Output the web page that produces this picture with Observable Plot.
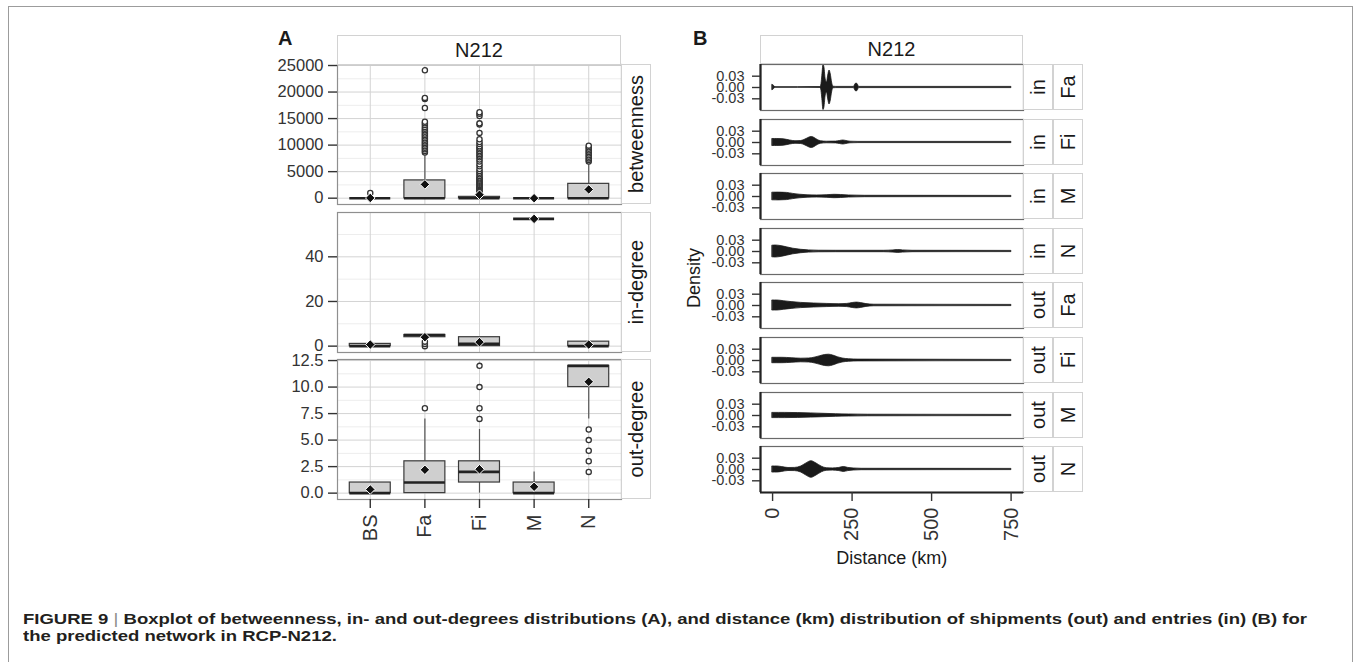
<!DOCTYPE html>
<html><head><meta charset="utf-8">
<script src="https://cdn.jsdelivr.net/npm/d3@7"></script>
<script src="https://cdn.jsdelivr.net/npm/@observablehq/plot@0.6"></script>
<style>
body{margin:0;background:#fff;font-family:"Liberation Sans",Arial,sans-serif;}
#root{position:relative;width:1356px;height:662px;overflow:hidden;background:#fff}
.strip{position:absolute;box-sizing:border-box;border:1px solid #d2d2d2;background:#fff;color:#1a1a1a;font-size:20px;display:flex;align-items:center;justify-content:center;}
.rot{transform:rotate(-90deg);white-space:nowrap;line-height:1}
.lab{position:absolute;white-space:nowrap;line-height:1;color:#1a1a1a}
</style></head><body><div id="root"></div>
<script>
// ---------------- DATA ----------------
const categories = ["BS","Fa","Fi","M","N"];
const metrics = ["betweenness","in-degree","out-degree"];

// betweenness
const btwQ1 = [0, 0, 0, 0, 0];
const btwMedian = [0, 0, 0, 0, 0];
const btwQ3 = [0, 3350, 250, 0, 2700];
const btwWhiskerLow = [0, 0, 0, 0, 0];
const btwWhiskerHigh = [0, 8300, 600, 0, 6700];
const btwMean = [50, 2600, 650, 0, 1650];
const btwOutliers = [
  [1000],
  [8600, 8900, 9200, 9500, 9800, 10100, 10400, 10700, 11000, 11300, 11600, 11900, 12200, 12500, 12800, 13100, 13400, 13800, 14100, 14400, 17000, 18700, 18900, 24100],
  [700, 900, 1100, 1300, 1500, 1700, 1900, 2100, 2300, 2500, 2700, 2900, 3100, 3300, 3500, 3700, 3900, 4200, 4500, 4800, 5100, 5500, 6000, 6400, 6900, 7300, 7700, 8000, 8300, 8600, 8900, 9200, 9500, 9800, 10200, 10600, 11100, 12300, 13900, 14100, 15500, 15900, 16200],
  [],
  [6900, 7200, 7500, 7800, 8100, 8400, 8700, 9000, 9300, 9600, 9900]
];

// in-degree
const inQ1 = [0, 4, 0, 57, 0];
const inMedian = [0, 5, 1, 57, 0];
const inQ3 = [1, 5, 4, 57, 2];
const inWhiskerLow = [0, 4, 0, 57, 0];
const inWhiskerHigh = [1, 5, 4, 57, 2];
const inMean = [0.7, 4.0, 1.8, 57, 0.7];
const inOutliers = [[], [0, 1, 2], [], [], []];

// out-degree
const outQ1 = [0, 0, 1, 0, 10];
const outMedian = [0, 1, 2, 0, 12];
const outQ3 = [1, 3, 3, 1, 12];
const outWhiskerLow = [0, 0, 0, 0, 7];
const outWhiskerHigh = [1, 7, 6, 2, 12];
const outMean = [0.35, 2.2, 2.25, 0.6, 10.5];
const outOutliers = [[], [8], [7, 8, 10, 12], [], [2, 3, 4, 5, 6]];

const btwTicks = [0, 5000, 10000, 15000, 20000, 25000];
const btwMinor = [2500, 7500, 12500, 17500, 22500];
const inTicks = [0, 20, 40];
const inMinor = [10, 30, 50];
const outTicks = [0, 2.5, 5, 7.5, 10, 12.5];
const outMinor = [1.25, 3.75, 6.25, 8.75, 11.25];

// panel B: distance violins
const flowDirections = ["in", "in", "in", "in", "out", "out", "out", "out"];
const flowCategories = ["Fa", "Fi", "M", "N", "Fa", "Fi", "M", "N"];
const violinKm = [
  [0, 3, 6, 12, 80, 150, 153, 156, 160, 163, 167, 171, 175, 179, 183, 187, 191, 200, 256, 260, 264, 268, 272, 751],
  [0, 15, 35, 55, 72, 90, 100, 110, 118, 124, 132, 142, 152, 170, 200, 212, 222, 232, 245, 270, 751],
  [0, 20, 45, 65, 85, 110, 140, 170, 195, 215, 240, 290, 751],
  [0, 10, 25, 45, 65, 90, 115, 145, 200, 350, 380, 395, 410, 440, 751],
  [0, 15, 35, 60, 90, 130, 170, 210, 235, 252, 265, 278, 295, 320, 751],
  [0, 30, 60, 90, 115, 135, 150, 165, 177, 190, 205, 220, 240, 270, 751],
  [0, 40, 80, 120, 160, 200, 240, 300, 751],
  [0, 15, 30, 50, 70, 90, 105, 122, 138, 155, 170, 190, 210, 224, 238, 255, 280, 751]
];
const violinDensity = [
  [0.0069, 0.0058, 0.0021, 0.0008, 0.0008, 0.0011, 0.0053, 0.0265, 0.0596, 0.053, 0.0212, 0.0133, 0.0318, 0.045, 0.0345, 0.0133, 0.0021, 0.0016, 0.0016, 0.008, 0.0106, 0.008, 0.0016, 0.0016],
  [0.0093, 0.0093, 0.0085, 0.0053, 0.0034, 0.004, 0.0066, 0.0106, 0.0138, 0.0146, 0.0119, 0.0066, 0.0034, 0.0021, 0.0024, 0.004, 0.0053, 0.004, 0.0021, 0.0016, 0.0016],
  [0.0101, 0.0103, 0.0095, 0.0069, 0.0048, 0.0032, 0.0027, 0.0034, 0.0045, 0.004, 0.0027, 0.0019, 0.0016],
  [0.0154, 0.0159, 0.0146, 0.0111, 0.0074, 0.0045, 0.0029, 0.0021, 0.0019, 0.0019, 0.0029, 0.0037, 0.0029, 0.0019, 0.0016],
  [0.0133, 0.0133, 0.0114, 0.009, 0.0069, 0.0053, 0.0042, 0.0034, 0.0042, 0.0066, 0.0077, 0.0064, 0.0037, 0.0021, 0.0016],
  [0.0072, 0.0072, 0.0061, 0.0048, 0.0053, 0.008, 0.0114, 0.0146, 0.0154, 0.0133, 0.0087, 0.0053, 0.0034, 0.0024, 0.0016],
  [0.0069, 0.0069, 0.0064, 0.0056, 0.0045, 0.0034, 0.0027, 0.0021, 0.0016],
  [0.008, 0.008, 0.0064, 0.004, 0.0042, 0.008, 0.0154, 0.022, 0.0159, 0.0074, 0.0034, 0.0029, 0.0042, 0.0066, 0.0042, 0.0027, 0.0019, 0.0016]
];
const densityTicks = [-0.03, 0, 0.03];
const distanceTicks = [0, 250, 500, 750];

// ---------------- LAYOUT ----------------
const root = document.getElementById("root");
const FONT = '"Liberation Sans", Arial, Helvetica, sans-serif';

function place(node, left, top) {
  node.style.position = "absolute";
  node.style.left = left + "px";
  node.style.top = top + "px";
  root.appendChild(node);
  return node;
}
function strip(left, top, w, h, text, rotate, fs) {
  const d = document.createElement("div");
  d.className = "strip";
  d.style.width = w + "px"; d.style.height = h + "px";
  if (fs) d.style.fontSize = fs + "px";
  const s = document.createElement("span");
  s.textContent = text;
  if (rotate) s.className = "rot";
  d.appendChild(s);
  return place(d, left, top);
}
function label(text, left, top, css) {
  const d = document.createElement("div");
  d.className = "lab";
  d.textContent = text;
  Object.assign(d.style, css || {});
  return place(d, left, top);
}

// outer frame
const frame = document.createElement("div");
Object.assign(frame.style, {boxSizing: "border-box", width: "1345px", height: "720px", border: "1.5px solid #9c9c9c"});
place(frame, 8, 6);

// ---------- Panel A ----------
const A = {left: 337, width: 284, height: 140, tops: [64, 211.5, 359]};
const specA = [
  {q1: btwQ1, med: btwMedian, q3: btwQ3, wlo: btwWhiskerLow, whi: btwWhiskerHigh, mean: btwMean, out: btwOutliers, domain: [-1190, 25190], ticks: btwTicks, minor: btwMinor, fmt: d => String(d)},
  {q1: inQ1, med: inMedian, q3: inQ3, wlo: inWhiskerLow, whi: inWhiskerHigh, mean: inMean, out: inOutliers, domain: [-2.85, 59.85], ticks: inTicks, minor: inMinor, fmt: d => String(d)},
  {q1: outQ1, med: outMedian, q3: outQ3, wlo: outWhiskerLow, whi: outWhiskerHigh, mean: outMean, out: outOutliers, domain: [-0.6, 12.6], ticks: outTicks, minor: outMinor, fmt: d => d.toFixed(1)}
];

specA.forEach((s, k) => {
  const last = k === 2;
  const mL = 100, mT = 1, mR = 1, mB = last ? 70 : 1;
  const rows = categories.map((c, i) => ({cat: c, q1: s.q1[i], med: s.med[i], q3: s.q3[i], wlo: s.wlo[i], whi: s.whi[i], mean: s.mean[i]}));
  const outl = categories.flatMap((c, i) => s.out[i].map(v => ({cat: c, v})));
  const svg = Plot.plot({
    width: mL + A.width + mR, height: mT + A.height + mB,
    marginLeft: mL, marginRight: mR, marginTop: mT, marginBottom: mB,
    style: {background: "none", fontFamily: FONT, fontSize: "16.5px", color: "#333", overflow: "visible"},
    x: {type: "band", domain: categories, paddingInner: 0.25, paddingOuter: 0.225, round: false, axis: null, label: null},
    y: {domain: s.domain, axis: null, label: null},
    marks: [
      Plot.ruleY(s.minor, {stroke: "#ededed", strokeWidth: 1}),
      Plot.ruleY(s.ticks, {stroke: "#d3d3d3", strokeWidth: 1}),
      Plot.ruleX(categories, {stroke: "#d3d3d3", strokeWidth: 1}),
      Plot.ruleX(rows, {x: "cat", y1: "wlo", y2: "q1", stroke: "#555", strokeWidth: 1.2}),
      Plot.ruleX(rows, {x: "cat", y1: "q3", y2: "whi", stroke: "#555", strokeWidth: 1.2}),
      Plot.barY(rows, {x: "cat", y1: "q1", y2: "q3", fill: "#cfcfcf", stroke: "#3a3a3a", strokeWidth: 1.2}),
      Plot.tickY(rows, {x: "cat", y: "med", stroke: "#222", strokeWidth: 2.6}),
      Plot.dot(outl, {x: "cat", y: "v", r: 2.6, stroke: "#333", strokeWidth: 1.3, fill: "white"}),
      Plot.dot(rows, {x: "cat", y: "mean", symbol: "diamond2", r: 4.3, fill: "#111", stroke: "white", strokeWidth: 1}),
      Plot.frame({stroke: "#8f8f8f", strokeWidth: 1.2}),
      Plot.axisY({ticks: s.ticks, tickFormat: s.fmt, tickSize: 9, tickPadding: 5, strokeWidth: 1.4, label: null}),
      last ? Plot.axisX({tickRotate: -90, tickSize: 9, tickPadding: 6, strokeWidth: 1.4, fontSize: 20, label: null}) : null
    ]
  });
  place(svg, A.left - mL, A.tops[k] - mT);
  strip(A.left + A.width, A.tops[k], 30, A.height, metrics[k], true);
});
strip(A.left, 35, A.width, 30, "N212", false);
label("A", 278, 28.4, {fontSize: "20px", fontWeight: "bold"});

// ---------- Panel B ----------
const B = {left: 760, width: 263, height: 46, top0: 64, pitch: 54.6};
violinKm.forEach((kmArr, p) => {
  const last = p === 7;
  const mL = 80, mT = 1, mR = 1, mB = last ? 60 : 1;
  const rows = kmArr.map((km, i) => ({km, hi: violinDensity[p][i], lo: -violinDensity[p][i]}));
  const svg = Plot.plot({
    width: mL + B.width + mR, height: mT + B.height + mB,
    marginLeft: mL, marginRight: mR, marginTop: mT, marginBottom: mB,
    style: {background: "none", fontFamily: FONT, fontSize: "14.5px", color: "#333", overflow: "visible"},
    x: {domain: [-38, 789], axis: null, label: null},
    y: {domain: [-0.061, 0.061], axis: null, label: null},
    marks: [
      Plot.areaY(rows, {x: "km", y1: "lo", y2: "hi", curve: "monotone-x", fill: "#1a1a1a", stroke: "#1a1a1a", strokeWidth: 0.8}),
      Plot.frame({stroke: "#6a6a6a", strokeWidth: 1.2}),
      Plot.ruleX([-38], {stroke: "#222", strokeWidth: 2.2}),
      last ? Plot.ruleY([-0.061], {stroke: "#222", strokeWidth: 2.2}) : null,
      Plot.axisY({ticks: densityTicks, tickFormat: d => d.toFixed(2), tickSize: 8, tickPadding: 8, strokeWidth: 1.4, label: null}),
      last ? Plot.axisX({ticks: distanceTicks, tickRotate: -90, tickSize: 9, tickPadding: 6, strokeWidth: 1.4, fontSize: 20, label: null}) : null
    ]
  });
  const top = B.top0 + p * B.pitch;
  place(svg, B.left - mL, top - mT);
  strip(B.left + B.width, top, 30, B.height, flowDirections[p], true);
  strip(B.left + B.width + 30, top, 30, B.height, flowCategories[p], true);
});
strip(B.left, 34.5, B.width, 29.5, "N212", false);
label("B", 693, 28.4, {fontSize: "20px", fontWeight: "bold"});

// axis titles
const dens = label("Density", 694, 278, {fontSize: "18px", color: "#1a1a1a"});
dens.style.transform = "translate(-50%,-50%) rotate(-90deg)";
const dist = label("Distance (km)", 891.7, 548.8, {fontSize: "18px", color: "#1a1a1a"});
dist.style.transform = "translateX(-50%)";

// caption
const cap = document.createElement("div");
Object.assign(cap.style, {fontFamily: FONT, fontWeight: "bold", fontSize: "15.5px", lineHeight: "17px", color: "#231f20", whiteSpace: "nowrap", transform: "scaleX(1.195)", transformOrigin: "0 0"});
cap.innerHTML = 'FIGURE 9 <span style="font-weight:normal;color:#8a8a8a">|</span> Boxplot of betweenness, in- and out-degrees distributions (A), and distance (km) distribution of shipments (out) and entries (in) (B) for<br>the predicted network in RCP-N212.';
place(cap, 23, 610.4);
</script></body></html>
